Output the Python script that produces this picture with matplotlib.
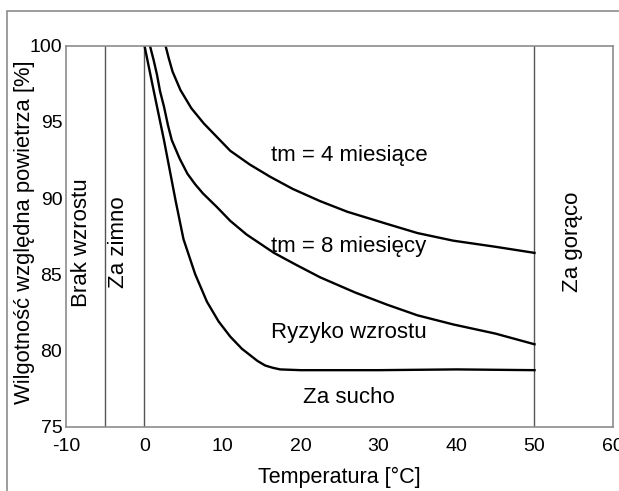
import matplotlib.pyplot as plt
from matplotlib.patches import Rectangle

plt.rcParams["font.family"] = ["Liberation Sans", "DejaVu Sans"]
plt.rcParams["axes.unicode_minus"] = False

# isopleths (temperature in degC, RH in %)
temp_4m = [2.7, 3.1, 3.6, 4.1, 4.6, 5.3, 6.0, 6.8, 7.6, 9.3, 11.0, 13.5, 16.1, 19.0, 22.5, 26.0, 31.1, 35.0, 39.6, 45.0, 50.0]
rh_4m = [100, 99.2, 98.3, 97.7, 97.1, 96.5, 95.9, 95.4, 94.9, 94.0, 93.1, 92.2, 91.4, 90.6, 89.8, 89.1, 88.3, 87.7, 87.2, 86.8, 86.4]

temp_8m = [0.7, 1.2, 1.6, 2.0, 2.5, 3.0, 3.5, 4.0, 4.5, 5.5, 6.5, 7.5, 9.3, 11.0, 13.1, 16.6, 19.5, 22.5, 27.0, 31.1, 35.0, 39.6, 45.0, 50.0]
rh_8m = [100, 99.0, 98.1, 97.0, 96.0, 94.8, 93.8, 93.2, 92.6, 91.6, 90.9, 90.3, 89.4, 88.5, 87.6, 86.4, 85.6, 84.8, 83.8, 83.0, 82.3, 81.7, 81.1, 80.4]

temp_min = [0.0, 1.2, 2.5, 4.0, 5.0, 6.5, 8.0, 9.5, 11.0, 12.5, 13.5, 14.5, 15.5, 16.5, 17.4, 20.0, 30.0, 40.0, 50.0]
rh_min = [100, 97.0, 93.8, 89.8, 87.3, 85.0, 83.2, 81.9, 80.9, 80.1, 79.7, 79.3, 79.0, 78.85, 78.75, 78.7, 78.7, 78.75, 78.7]

limits = [-5, 0, 50]
x_ticks = [-10, 0, 10, 20, 30, 40, 50, 60]
y_ticks = [75, 80, 85, 90, 95, 100]

fig = plt.figure(figsize=(6.19, 4.91), dpi=100)
ax = fig.add_axes([0.1074, 0.1313, 0.8821, 0.7756])

# outer frame (only top and left edges fall inside the picture)
fig.patches.append(Rectangle((7 / 619, -0.2), 1.2, 0.2 + 1 - 10.7 / 491,
                             transform=fig.transFigure, fill=False,
                             edgecolor="#8c8c8c", linewidth=1.2))

for x in limits:
    ax.axvline(x, color="#555555", linewidth=1.0)

for t, rh in [(temp_4m, rh_4m), (temp_8m, rh_8m), (temp_min, rh_min)]:
    ax.plot(t, rh, color="black", linewidth=1.7, solid_joinstyle="round")

ax.set_xlim(-10, 60)
ax.set_ylim(75, 100)
ax.set_xticks(x_ticks)
ax.set_yticks(y_ticks)
ax.tick_params(length=0, labelsize=14)
ax.tick_params(axis="x", pad=8)
ax.tick_params(axis="y", pad=3)
for spine in ax.spines.values():
    spine.set_color("#8c8c8c")
    spine.set_linewidth(1.2)

ax.set_xlabel("Temperatura [°C]", fontsize=15.5, labelpad=9)
ax.set_ylabel("Wilgotność względna powietrza [%]", fontsize=15.8)
ax.yaxis.set_label_coords(-0.058, 0.51)

note = dict(fontsize=16, ha="center", va="center")
ax.text(26.2, 92.8, "tm = 4 miesiące", **note)
ax.text(26.2, 86.8, "tm = 8 miesięcy", **note)
ax.text(26.2, 81.2, "Ryzyko wzrostu", **note)
ax.text(26.2, 76.9, "Za sucho", **note)
ax.text(-8.1, 87.1, "Brak wzrostu", rotation=90, **note)
ax.text(-3.3, 87.1, "Za zimno", rotation=90, **note)
ax.text(54.9, 87.1, "Za gorąco", rotation=90, **note)

fig.savefig("out.png", dpi=100)
plt.close(fig)
